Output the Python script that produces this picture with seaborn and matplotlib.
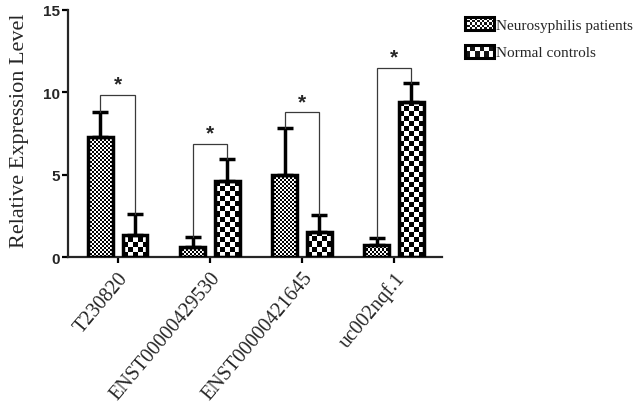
import numpy as np
import pandas as pd
import matplotlib
matplotlib.use("Agg")
import matplotlib.pyplot as plt
import seaborn as sns
from matplotlib.patches import Rectangle, Patch
from matplotlib.legend_handler import HandlerBase

# ---------------- data ----------------
genes = ["T230820", "ENST00000429530", "ENST00000421645", "uc002nqf.1"]
groups = ["Neurosyphilis patients", "Normal controls"]
patients_mean = [7.26, 0.63, 4.97, 0.73]
patients_err = [1.52, 0.61, 2.85, 0.45]
controls_mean = [1.32, 4.62, 1.52, 9.42]
controls_err = [1.28, 1.36, 1.01, 1.14]
bracket_y = [9.84, 6.88, 8.78, 11.5]
sig_labels = ["*", "*", "*", "*"]
yticks = [0, 5, 10, 15]

df = pd.DataFrame({
    "gene": genes * 2,
    "group": [groups[0]] * len(genes) + [groups[1]] * len(genes),
    "value": patients_mean + controls_mean,
})

sns.set_style("ticks")
plt.rcParams["font.family"] = ["Liberation Serif", "DejaVu Serif"]

W, H = 638, 406
fig = plt.figure(figsize=(W / 100, H / 100), dpi=100)
ax = fig.add_axes([68 / W, 1 - 258 / H, 374 / W, 247 / H])

sns.barplot(data=df, x="gene", y="value", hue="group", hue_order=groups,
            order=genes, errorbar=None, width=0.75, gap=0.28,
            palette=["white", "white"], edgecolor="black", linewidth=2.5,
            legend=False, ax=ax)

bar_containers = list(ax.containers)

ax.set_xlim(-0.54, 3.52)
ax.set_ylim(0, 15)

# pixel scale
xppu = ax.bbox.width / (3.52 + 0.54)
yppu = ax.bbox.height / 15.0

cell_px = [2.0, 5.0]
for gi, cont in enumerate(bar_containers):
    for p in cont.patches:
        x0 = p.get_x(); w = p.get_width(); h = p.get_height()
        cw = cell_px[gi] / xppu
        ch = cell_px[gi] / yppu
        ncol = int(np.ceil(w / cw)) + 1
        nrow = int(np.ceil(h / ch)) + 1
        ii, jj = np.meshgrid(np.arange(ncol), np.arange(nrow))
        board = ((ii + jj) % 2).astype(float)
        im = ax.imshow(board, cmap="gray", vmin=0.08, vmax=1, origin="lower",
                       extent=(x0, x0 + ncol * cw, 0, nrow * ch),
                       aspect="auto", interpolation="nearest", zorder=2)
        im.set_clip_path(p)
        p.set_facecolor("none")
        p.set_zorder(3)

ax.set_xlim(-0.54, 3.52)
ax.set_ylim(0, 15)

# error bars (upper only)
errs = [patients_err, controls_err]
tops = []
for gi, cont in enumerate(bar_containers):
    xs = [p.get_x() + p.get_width() / 2 for p in cont.patches]
    hs = [p.get_height() for p in cont.patches]
    ax.errorbar(xs, hs, yerr=[np.zeros(len(hs)), errs[gi]], fmt="none",
                ecolor="black", elinewidth=2.5, capsize=5.8, capthick=2.5,
                zorder=2.5)
    tops.append([(x, hh + e) for x, hh, e in zip(xs, hs, errs[gi])])

# significance brackets
for k in range(len(genes)):
    (xl, yl), (xr, yr) = tops[0][k], tops[1][k]
    by = bracket_y[k]
    ax.plot([xl, xl, xr, xr], [yl, by, by, yr], color="#3a3a3a", lw=0.9,
            zorder=4, solid_joinstyle="miter")
    ax.annotate(sig_labels[k], xy=((xl + xr) / 2, by), xytext=(0, 1.0),
                textcoords="offset points", ha="center", va="bottom",
                fontsize=15, fontweight="bold", family="Liberation Sans")

# axes styling
for s in ["top", "right"]:
    ax.spines[s].set_visible(False)
ax.spines["left"].set_linewidth(1.6)
ax.spines["bottom"].set_linewidth(1.6)
ax.set_yticks(yticks)
ax.set_yticklabels([str(t) for t in yticks], family="Liberation Sans",
                   fontweight="bold", fontsize=11)
ax.tick_params(axis="both", length=4, width=1.6, color="black", pad=1.5)
ax.set_xticks(range(len(genes)))
ax.set_xticklabels(genes, rotation=50, ha="right", va="top",
                   rotation_mode="anchor", fontsize=14.5,
                   family="Liberation Serif")
ax.tick_params(axis="x", pad=4)
ax.set_xlabel("")
ax.set_ylabel("Relative Expression Level", fontsize=16,
              family="Liberation Serif")
ax.yaxis.set_label_coords((29 - 68) / 374, (258 - 130.5) / 247)


# legend with checker swatches
class CheckerHandler(HandlerBase):
    def __init__(self, ncols, nrows):
        super().__init__()
        self.ncols = ncols
        self.nrows = nrows

    def create_artists(self, legend, orig_handle, xdescent, ydescent,
                       width, height, fontsize, trans):
        x0, y0 = -xdescent, -ydescent
        arts = [Rectangle((x0, y0), width, height, facecolor="white",
                          edgecolor="none", transform=trans)]
        cw = width / self.ncols
        ch = height / self.nrows
        for i in range(self.ncols):
            for j in range(self.nrows):
                if (i + j) % 2 == 0:
                    arts.append(Rectangle((x0 + i * cw, y0 + j * ch), cw, ch,
                                          facecolor="#141414", edgecolor="none",
                                          transform=trans))
        arts.append(Rectangle((x0, y0), width, height, facecolor="none",
                              edgecolor="black", lw=2.2, transform=trans))
        return arts


h1 = Patch(label=groups[0])
h2 = Patch(label=groups[1])
fig.legend(handles=[h1, h2], labels=groups, loc="upper left",
           bbox_to_anchor=(465 / W, 1 - 18 / H), frameon=False,
           borderpad=0, borderaxespad=0, handlelength=1.9,
           handleheight=0.92, handletextpad=0.15, labelspacing=0.85,
           handler_map={h1: CheckerHandler(12, 5), h2: CheckerHandler(6, 2)},
           prop={"family": "Liberation Serif", "size": 11})

fig.savefig("out.png", dpi=100)
